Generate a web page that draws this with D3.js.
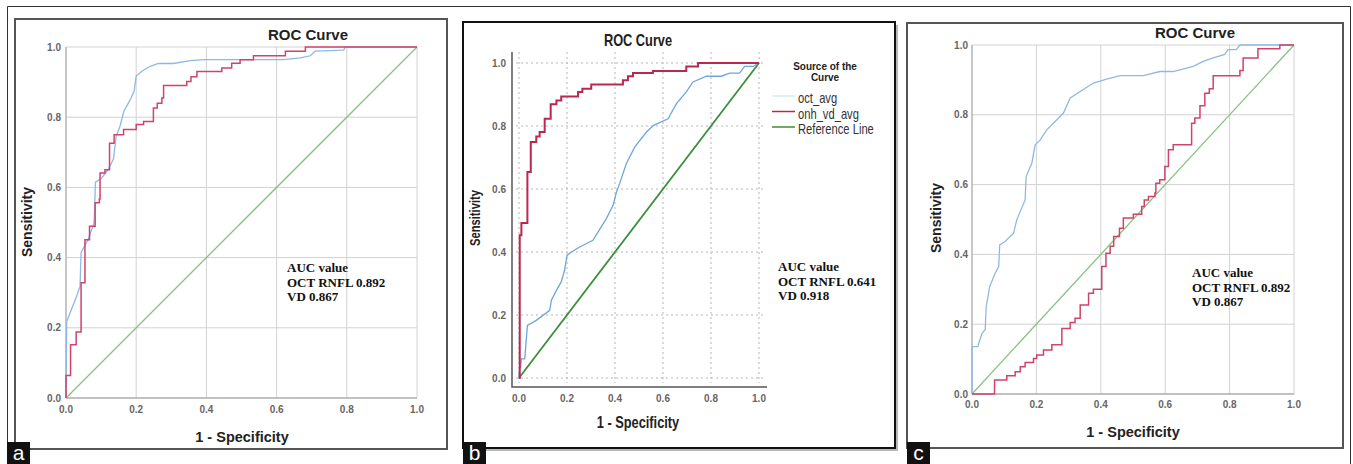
<!DOCTYPE html>
<html>
<head>
<meta charset="utf-8">
<script src="https://cdn.jsdelivr.net/npm/d3@7/dist/d3.min.js"></script>
<style>
  body { margin: 0; background: #fff; }
  svg { display: block; }
</style>
</head>
<body>
<svg id="fig" width="1353" height="464"></svg>
<script>
// ---- data ----
var ticks = [0, 0.2, 0.4, 0.6, 0.8, 1.0];
var tickLabels = ["0.0", "0.2", "0.4", "0.6", "0.8", "1.0"];

// panel a
var aOctFpr = [0, 0.002, 0.030, 0.040, 0.043, 0.063, 0.080, 0.084, 0.102, 0.120, 0.135, 0.143, 0.154, 0.165, 0.183, 0.194, 0.200, 0.216, 0.240, 0.263, 0.306, 0.354, 0.392, 0.477, 0.620, 0.667, 0.696, 0.710, 0.791, 0.796, 1];
var aOctTpr = [0, 0.218, 0.289, 0.318, 0.415, 0.451, 0.499, 0.615, 0.627, 0.651, 0.680, 0.746, 0.775, 0.817, 0.850, 0.874, 0.917, 0.931, 0.945, 0.953, 0.953, 0.961, 0.964, 0.964, 0.964, 0.969, 0.975, 0.988, 0.991, 1.0, 1];
var aVdFpr = [0, 0, 0.013, 0.029, 0.043, 0.054, 0.067, 0.083, 0.095, 0.097, 0.111, 0.124, 0.137, 0.164, 0.200, 0.221, 0.249, 0.260, 0.273, 0.278, 0.344, 0.356, 0.373, 0.444, 0.472, 0.496, 0.534, 0.625, 0.682, 1];
var aVdTpr = [0, 0.064, 0.152, 0.188, 0.328, 0.451, 0.489, 0.556, 0.567, 0.641, 0.650, 0.726, 0.750, 0.765, 0.779, 0.788, 0.826, 0.840, 0.855, 0.890, 0.902, 0.915, 0.930, 0.940, 0.954, 0.964, 0.975, 0.988, 1.0, 1];

// panel b
var bOctFpr = [0, 0.003, 0.007, 0.010, 0.024, 0.035, 0.072, 0.128, 0.135, 0.156, 0.176, 0.190, 0.200, 0.218, 0.253, 0.308, 0.329, 0.364, 0.392, 0.406, 0.419, 0.447, 0.482, 0.531, 0.561, 0.621, 0.656, 0.697, 0.725, 0.781, 0.843, 0.878, 0.919, 0.940, 0.975, 1];
var bOctTpr = [0, 0.035, 0.035, 0.061, 0.061, 0.167, 0.183, 0.215, 0.247, 0.278, 0.305, 0.342, 0.389, 0.400, 0.416, 0.437, 0.463, 0.506, 0.548, 0.590, 0.617, 0.680, 0.733, 0.781, 0.802, 0.823, 0.871, 0.908, 0.940, 0.958, 0.958, 0.968, 0.968, 0.989, 0.989, 1];
var bVdFpr = [0, 0.003, 0.010, 0.035, 0.049, 0.072, 0.086, 0.107, 0.132, 0.156, 0.176, 0.246, 0.264, 0.301, 0.433, 0.454, 0.475, 0.558, 0.697, 0.746, 1];
var bVdTpr = [0, 0.453, 0.492, 0.654, 0.749, 0.767, 0.781, 0.823, 0.869, 0.881, 0.894, 0.908, 0.918, 0.932, 0.945, 0.958, 0.968, 0.975, 0.989, 1.0, 1];

// panel c
var cOctFpr = [0, 0, 0.018, 0.031, 0.041, 0.044, 0.055, 0.072, 0.083, 0.086, 0.103, 0.129, 0.139, 0.165, 0.168, 0.186, 0.196, 0.212, 0.232, 0.253, 0.284, 0.305, 0.336, 0.377, 0.418, 0.460, 0.532, 0.584, 0.625, 0.687, 0.718, 0.749, 0.785, 0.795, 0.821, 0.832, 1];
var cOctTpr = [0, 0.136, 0.136, 0.174, 0.184, 0.250, 0.308, 0.346, 0.365, 0.427, 0.437, 0.461, 0.499, 0.556, 0.623, 0.662, 0.714, 0.728, 0.757, 0.776, 0.805, 0.848, 0.867, 0.891, 0.902, 0.912, 0.912, 0.924, 0.924, 0.939, 0.953, 0.963, 0.973, 0.987, 0.987, 1.0, 1];
var cVdFpr = [0, 0.070, 0.108, 0.134, 0.150, 0.165, 0.191, 0.201, 0.222, 0.248, 0.279, 0.305, 0.320, 0.336, 0.362, 0.377, 0.403, 0.416, 0.429, 0.440, 0.458, 0.470, 0.501, 0.527, 0.535, 0.548, 0.568, 0.571, 0.583, 0.599, 0.610, 0.625, 0.682, 0.692, 0.708, 0.723, 0.737, 0.749, 0.832, 0.842, 0.888, 0.956, 1];
var cVdTpr = [0, 0.040, 0.052, 0.064, 0.078, 0.090, 0.102, 0.112, 0.126, 0.141, 0.188, 0.205, 0.217, 0.255, 0.289, 0.300, 0.365, 0.403, 0.423, 0.451, 0.475, 0.504, 0.515, 0.537, 0.556, 0.566, 0.576, 0.604, 0.614, 0.652, 0.700, 0.714, 0.776, 0.791, 0.826, 0.862, 0.875, 0.912, 0.927, 0.963, 0.989, 1.0, 1];

var refLine = [0, 1];

var aucA = ["AUC value", "OCT RNFL 0.892", "VD 0.867"];
var aucB = ["AUC value", "OCT RNFL 0.641", "VD 0.918"];
var aucC = ["AUC value", "OCT RNFL 0.892", "VD 0.867"];

var legendB = ["oct_avg", "onh_vd_avg", "Reference Line"];

function zip(xs, ys) {
  return xs.map(function(x, i) { return [x, ys[i]]; });
}

var svg = d3.select("#fig");

// figure border (top, left, right)
svg.append("path")
  .attr("d", "M7.5,464 V6.5 H1350.5 V464")
  .attr("fill", "none")
  .attr("stroke", "#333")
  .attr("stroke-width", 1);

var sans = "'Liberation Sans', Arial, sans-serif";
var serif = "'Liberation Serif', 'Times New Roman', serif";

// text helper; sx < 1 squeezes the glyphs (panel b uses a condensed face)
function label(g, x, y, str, size, sx, opts) {
  opts = opts || {};
  var t = g.append("text")
    .attr("transform", "translate(" + x + "," + y + ")" + (opts.rotate ? " rotate(-90)" : "") + " scale(" + sx + ",1)")
    .attr("text-anchor", opts.anchor || "middle")
    .attr("font-family", opts.font || sans)
    .attr("font-size", size)
    .attr("font-weight", opts.weight || "bold")
    .attr("fill", opts.fill || "#222")
    .text(str);
  return t;
}

function drawPanel(p) {
  var g = svg.append("g");

  if (p.shadow) {
    g.append("rect")
      .attr("x", p.frame[0] + 3).attr("y", p.frame[1] + 3)
      .attr("width", p.frame[2] - p.frame[0]).attr("height", p.frame[3] - p.frame[1])
      .attr("fill", "#888").attr("opacity", 0.6);
  }
  g.append("rect")
    .attr("x", p.frame[0]).attr("y", p.frame[1])
    .attr("width", p.frame[2] - p.frame[0]).attr("height", p.frame[3] - p.frame[1])
    .attr("fill", "#fff")
    .attr("stroke", p.frameColor)
    .attr("stroke-width", p.frameWidth);

  var x = d3.scaleLinear().domain([0, 1]).range([p.x0, p.x1]);
  var y = d3.scaleLinear().domain([0, 1]).range([p.y0, p.y1]);

  // grid
  var grid = g.append("g");
  grid.selectAll("line.v").data(ticks).enter().append("line")
    .attr("x1", function(d) { return x(d); }).attr("x2", function(d) { return x(d); })
    .attr("y1", p.dotted ? p.axisTop : y(0)).attr("y2", p.dotted ? p.axisBottom - 4 : y(1))
    .attr("stroke", p.gridColor)
    .attr("stroke-width", 1)
    .attr("stroke-dasharray", p.dotted ? "2,3" : null);
  grid.selectAll("line.h").data(ticks).enter().append("line")
    .attr("x1", p.dotted ? p.axisLeft + 4 : x(0)).attr("x2", p.dotted ? p.axisRight - 4 : x(1))
    .attr("y1", function(d) { return y(d); }).attr("y2", function(d) { return y(d); })
    .attr("stroke", p.gridColor)
    .attr("stroke-width", 1)
    .attr("stroke-dasharray", p.dotted ? "2,3" : null);

  if (p.dotted) {
    // SPSS-style L axes
    g.append("path")
      .attr("d", "M" + p.axisLeft + "," + p.axisTop + " V" + p.axisBottom + " H" + p.axisRight)
      .attr("fill", "none").attr("stroke", "#555").attr("stroke-width", 1.5);
  } else {
    g.append("line").attr("x1", x(0)).attr("x2", x(1)).attr("y1", y(0)).attr("y2", y(0))
      .attr("stroke", "#999").attr("stroke-width", 1.2);
    g.append("line").attr("x1", x(0)).attr("x2", x(0)).attr("y1", y(0)).attr("y2", y(1))
      .attr("stroke", "#b0b0b0").attr("stroke-width", 1.2);
  }

  // tick labels
  g.selectAll("text.yt").data(ticks).enter().append("text")
    .attr("x", p.yTickX).attr("y", function(d) { return y(d) + 3.5; })
    .attr("text-anchor", "end")
    .attr("font-family", sans).attr("font-size", 10).attr("font-weight", "bold")
    .attr("fill", "#666")
    .text(function(d, i) { return tickLabels[i]; });
  g.selectAll("text.xt").data(ticks).enter().append("text")
    .attr("x", function(d) { return x(d); }).attr("y", p.xTickY)
    .attr("text-anchor", "middle")
    .attr("font-family", sans).attr("font-size", 10).attr("font-weight", "bold")
    .attr("fill", "#666")
    .text(function(d, i) { return tickLabels[i]; });

  var line = d3.line().x(function(d) { return x(d[0]); }).y(function(d) { return y(d[1]); });
  var step = d3.line().x(function(d) { return x(d[0]); }).y(function(d) { return y(d[1]); }).curve(d3.curveStepAfter);

  // reference
  g.append("path").datum(zip(refLine, refLine))
    .attr("d", line).attr("fill", "none")
    .attr("stroke", p.greenColor).attr("stroke-width", p.greenWidth);
  // oct
  g.append("path").datum(zip(p.octFpr, p.octTpr))
    .attr("d", line).attr("fill", "none")
    .attr("stroke", p.blueColor).attr("stroke-width", 1.3);
  // vd
  g.append("path").datum(zip(p.vdFpr, p.vdTpr))
    .attr("d", step).attr("fill", "none")
    .attr("stroke", p.redColor).attr("stroke-width", p.redWidth);

  // titles
  label(g, p.titleX, p.titleY, "ROC Curve", p.titleSize, p.squeeze);
  label(g, p.yLabX, p.yLabY, "Sensitivity", 14, p.squeeze, { rotate: true });
  label(g, p.xLabX, p.xLabY, "1 - Specificity", p.xLabSize, p.squeeze);

  // AUC note
  g.selectAll("text.auc").data(p.auc).enter().append("text")
    .attr("x", p.aucX).attr("y", function(d, i) { return p.aucY + i * 14.5; })
    .attr("font-family", serif).attr("font-size", 13).attr("font-weight", "bold")
    .attr("fill", "#111")
    .text(function(d) { return d; });

  // panel letter
  var lx = p.frame[0] - (p.letterShift || 0);
  g.append("rect").attr("x", lx).attr("y", 442)
    .attr("width", 23).attr("height", 22).attr("fill", "#111");
  g.append("text").attr("x", lx + 11.5).attr("y", 460)
    .attr("text-anchor", "middle").attr("font-family", sans)
    .attr("font-size", 21).attr("fill", "#fff")
    .text(p.letter);

  return { g: g, x: x, y: y };
}

drawPanel({
  letter: "a", letterShift: 8,
  frame: [15, 19, 447, 449], frameColor: "#555", frameWidth: 2,
  x0: 66, x1: 417, y0: 398, y1: 47,
  gridColor: "#d2d2d2", dotted: false,
  yTickX: 61, xTickY: 413,
  squeeze: 1, titleSize: 15, xLabSize: 14.5,
  greenColor: "#86c27f", greenWidth: 1.3,
  blueColor: "#8fb9e3", redColor: "#d0436a", redWidth: 1.5,
  octFpr: aOctFpr, octTpr: aOctTpr, vdFpr: aVdFpr, vdTpr: aVdTpr,
  titleX: 308, titleY: 40, yLabX: 32, yLabY: 222, xLabX: 242, xLabY: 442,
  auc: aucA, aucX: 287, aucY: 272
});

var pb = drawPanel({
  letter: "b",
  frame: [463, 22, 895, 448], frameColor: "#111", frameWidth: 2, shadow: true,
  x0: 519, x1: 759, y0: 378, y1: 63,
  axisLeft: 512, axisTop: 52, axisBottom: 387, axisRight: 767,
  gridColor: "#b5b5b5", dotted: true,
  yTickX: 506, xTickY: 402,
  squeeze: 0.8, titleSize: 16, xLabSize: 16,
  greenColor: "#3b8f3b", greenWidth: 1.8,
  blueColor: "#6fa6da", redColor: "#b8284f", redWidth: 2,
  octFpr: bOctFpr, octTpr: bOctTpr, vdFpr: bVdFpr, vdTpr: bVdTpr,
  titleX: 638, titleY: 46, yLabX: 480, yLabY: 218, xLabX: 638, xLabY: 428,
  auc: aucB, aucX: 778, aucY: 271
});

// legend for panel b
var lg = pb.g.append("g");
label(lg, 825, 70, "Source of the", 10.5, 0.95);
label(lg, 825, 81, "Curve", 10.5, 0.95);
var legendColors = ["#d6ebf2", "#b8284f", "#3b8f3b"];
var legendY = d3.scalePoint().domain(legendB).range([96, 127]);
lg.selectAll("line.lg").data(legendB).enter().append("line")
  .attr("x1", 772).attr("x2", 795)
  .attr("y1", function(d) { return legendY(d); }).attr("y2", function(d) { return legendY(d); })
  .attr("stroke", function(d, i) { return legendColors[i]; })
  .attr("stroke-width", 1.5);
legendB.forEach(function(d) {
  label(lg, 798, legendY(d) + 7, d, 14, 0.8, { anchor: "start", weight: "normal", fill: "#333" });
});

drawPanel({
  letter: "c",
  frame: [907, 23, 1343, 448], frameColor: "#555", frameWidth: 2,
  x0: 972, x1: 1294, y0: 394, y1: 45,
  gridColor: "#d2d2d2", dotted: false,
  yTickX: 968, xTickY: 408,
  squeeze: 1, titleSize: 15, xLabSize: 14.5,
  greenColor: "#86c27f", greenWidth: 1.3,
  blueColor: "#8fb9e3", redColor: "#d0436a", redWidth: 1.5,
  octFpr: cOctFpr, octTpr: cOctTpr, vdFpr: cVdFpr, vdTpr: cVdTpr,
  titleX: 1195, titleY: 38, yLabX: 941, yLabY: 218, xLabX: 1133, xLabY: 437,
  auc: aucC, aucX: 1192, aucY: 277
});
</script>
</body>
</html>
